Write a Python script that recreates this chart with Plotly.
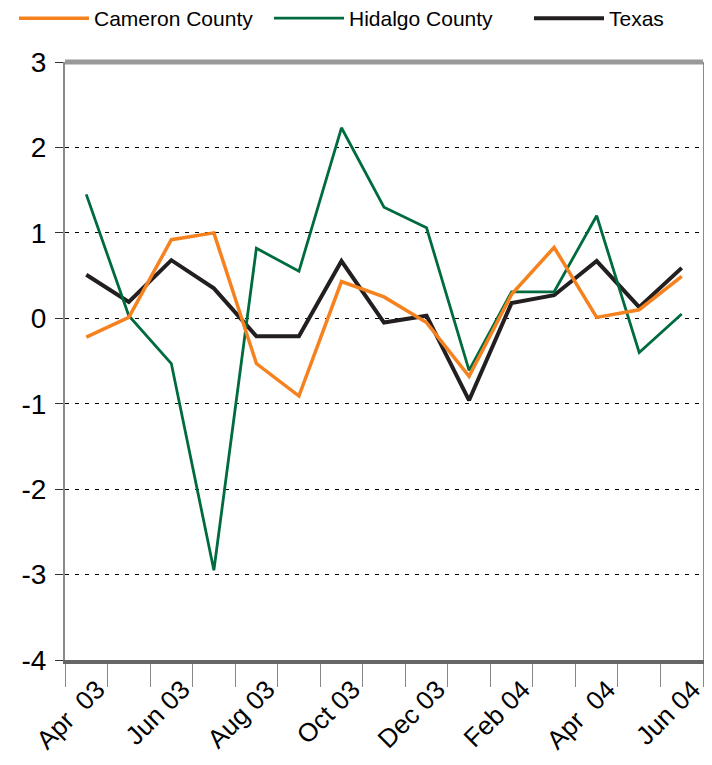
import plotly.graph_objects as go

months = ["Apr\u00a0 03", "May 03", "Jun 03", "Jul 03", "Aug 03", "Sep 03", "Oct 03",
          "Nov 03", "Dec 03", "Jan 04", "Feb 04", "Mar 04", "Apr\u00a0 04", "May 04", "Jun 04"]
label_every = 2
y_ticks = [-4, -3, -2, -1, 0, 1, 2, 3]

cameron = [-0.22, 0.01, 0.92, 1.00, -0.53, -0.91, 0.43, 0.25, -0.05, -0.68, 0.28, 0.83, 0.01, 0.10, 0.49]
hidalgo = [1.45, 0.03, -0.53, -2.95, 0.82, 0.55, 2.23, 1.30, 1.06, -0.61, 0.31, 0.31, 1.20, -0.40, 0.05]
texas = [0.51, 0.19, 0.68, 0.35, -0.21, -0.21, 0.67, -0.05, 0.03, -0.96, 0.18, 0.27, 0.67, 0.13, 0.59]

# name, values, colour, width, legend id, legend left (px in figure)
series = [
    ("Texas", texas, "#231F20", 4.0, "legend3", 521),
    ("Hidalgo County", hidalgo, "#006B3F", 2.8, "legend2", 261),
    ("Cameron County", cameron, "#F5821F", 3.5, "legend", 6),
]

W, H = 712, 765
L, R, T, B = 57, 17, 54, 113
plot_h = H - T - B

fig = go.Figure()
for name, vals, color, w, lg, _ in series:
    fig.add_trace(go.Scatter(x=months, y=vals, mode="lines", name=name,
                             line=dict(color=color, width=w), legend=lg))

ticktext = [m if i % label_every == 0 else "" for i, m in enumerate(months)]

legend_style = dict(orientation="h", xanchor="left", xref="container",
                    yanchor="top", yref="paper",
                    font=dict(size=21, family="Liberation Sans, Arial"),
                    itemwidth=70, bgcolor="rgba(0,0,0,0)")
legends = {}
for name, vals, color, w, lg, left in series:
    legends[lg] = dict(legend_style, x=left / W, y=1 + (T + 10) / plot_h)

fig.update_layout(
    width=W, height=H,
    margin=dict(l=L, r=R, t=T, b=B, autoexpand=False),
    paper_bgcolor="white", plot_bgcolor="white",
    font=dict(family="Liberation Sans, Arial, sans-serif", color="black"),
    showlegend=True,
    **legends,
    xaxis=dict(type="category", tickmode="array", tickvals=months, ticktext=ticktext,
               range=[-0.5, len(months) - 0.5],
               tickson="boundaries", ticks="outside", ticklen=23, tickcolor="#888", tickwidth=1,
               tickangle=-45, tickfont=dict(size=26), ticklabelshift=11,
               showline=True, linecolor="#666", linewidth=4, showgrid=False),
    yaxis=dict(range=[-4, 3], tickmode="array", tickvals=y_ticks,
               ticktext=[str(v) for v in y_ticks],
               ticks="outside", ticklen=8, tickcolor="#333", ticklabelstandoff=3,
               tickfont=dict(size=28), showline=True, linecolor="#8a8a8a", linewidth=2,
               mirror=True, showgrid=True, gridcolor="black", gridwidth=1,
               griddash="4px,6px", zeroline=False),
    shapes=[dict(type="line", xref="paper", yref="paper", x0=0, x1=1, y0=1, y1=1,
                 line=dict(color="#999", width=5))],
)

fig.write_html("out.html")
